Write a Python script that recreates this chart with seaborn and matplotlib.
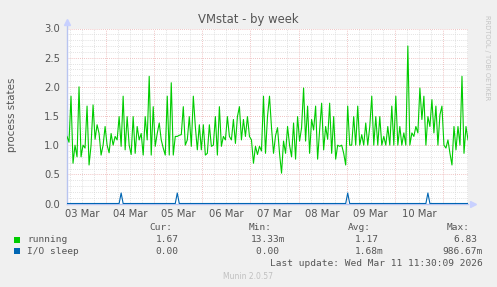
import numpy as np
import pandas as pd
import matplotlib
matplotlib.use("Agg")
import matplotlib.pyplot as plt
import matplotlib.dates as mdates
import seaborn as sns

# ---------------- data ----------------
start_time = "2026-03-03 04:30"
running = [
    1.15, 1.05, 1.84, 0.69, 1.00, 0.80, 2.00, 0.80, 1.00, 0.95,
    1.67, 0.66, 1.00, 1.69, 1.10, 1.35, 1.20, 0.83, 1.00, 1.32,
    1.00, 0.87, 1.20, 1.00, 1.15, 1.09, 1.49, 0.98, 1.84, 0.92,
    1.49, 1.00, 0.84, 1.49, 0.86, 1.32, 1.09, 1.20, 0.83, 1.49,
    1.09, 2.18, 0.83, 1.66, 0.98, 1.20, 1.38, 1.09, 0.95, 0.83,
    1.84, 0.83, 2.07, 0.83, 1.15, 1.15, 1.17, 1.18, 1.66, 1.00,
    1.09, 1.49, 0.98, 1.84, 1.32, 0.92, 1.35, 0.92, 1.35, 0.83,
    0.86, 1.35, 0.98, 1.00, 1.49, 0.83, 1.66, 0.98, 1.15, 1.09,
    1.49, 1.15, 1.09, 1.44, 1.03, 1.49, 1.66, 1.09, 1.44, 1.15,
    1.49, 1.15, 1.09, 0.69, 0.98, 0.84, 0.98, 0.90, 1.84, 0.86,
    1.49, 1.84, 1.30, 0.86, 1.16, 1.30, 0.86, 0.52, 1.07, 0.86,
    1.32, 1.00, 0.80, 1.38, 0.76, 1.49, 1.07, 1.30, 1.98, 1.07,
    1.67, 0.86, 1.44, 1.26, 1.67, 0.76, 1.26, 1.72, 0.92, 1.32,
    1.10, 1.72, 0.86, 1.49, 0.76, 1.00, 0.98, 1.00, 0.86, 0.66,
    1.67, 1.00, 1.00, 1.49, 1.00, 1.67, 1.00, 1.18, 1.00, 1.38,
    1.00, 1.32, 1.84, 1.00, 1.49, 1.00, 1.49, 1.00, 1.15, 1.00,
    1.32, 1.00, 1.67, 1.00, 1.84, 1.00, 1.32, 1.00, 1.21, 1.00,
    2.70, 1.00, 1.21, 1.15, 1.32, 1.21, 1.98, 1.44, 1.84, 1.00,
    1.49, 1.32, 1.78, 1.21, 1.67, 1.00, 1.52, 1.67, 1.00, 0.95,
    1.09, 0.86, 0.66, 1.32, 0.92, 1.32, 1.00, 2.18, 0.86, 1.32,
    1.09,
]
io_spike_index = [27, 55, 140, 180]
io_spike_value = [0.18, 0.18, 0.18, 0.18]

tick_days = ["2026-03-03", "2026-03-04", "2026-03-05", "2026-03-06",
             "2026-03-07", "2026-03-08", "2026-03-09", "2026-03-10"]

legend_names = ["running", "I/O sleep"]
legend_cur = ["1.67", "0.00"]
legend_min = ["13.33m", "0.00"]
legend_avg = ["1.17", "1.68m"]
legend_max = ["6.83", "986.67m"]
colors = ["#00CC00", "#0066B3"]

title = "VMstat - by week"
ylabel = "process states"
last_update = "Last update: Wed Mar 11 11:30:09 2026"
footer = "Munin 2.0.57"
side_text = "RRDTOOL / TOBI OETIKER"

# ---------------- build frame ----------------
times = pd.date_range(start_time, periods=len(running), freq="h")
io_sleep = np.zeros(len(running))
for i, v in zip(io_spike_index, io_spike_value):
    io_sleep[i] = v
df = pd.DataFrame({"time": times, "running": running, "io": io_sleep})

# ---------------- figure ----------------
W, H = 497, 287
fig = plt.figure(figsize=(W / 100, H / 100), dpi=100, facecolor="#F0F0F0")
ax = fig.add_axes([67 / W, 1 - 203.5 / H, 401 / W, 175 / H])
ax.set_facecolor("white")

xmin, xmax = times[0], times[-1]
ax.set_xlim(xmin, xmax)
ax.set_ylim(0, 3.0)

# grid
minor_col = "#D4D4D4"
major_col = "#EBB0B0"
dot = (0, (1, 1.5))
for y in np.arange(0.1, 3.01, 0.1):
    if abs(y * 2 - round(y * 2)) < 1e-6:
        ax.axhline(y, color=major_col, lw=0.6, ls=dot, zorder=1)
    else:
        ax.axhline(y, color=minor_col, lw=0.55, ls=dot, zorder=0.5)
for t in pd.date_range("2026-03-03 06:00", xmax, freq="6h"):
    if t.hour == 0:
        ax.axvline(t, color=major_col, lw=0.6, ls=dot, zorder=1)
    else:
        ax.axvline(t, color=minor_col, lw=0.55, ls=dot, zorder=0.5)

sns.lineplot(data=df, x="time", y="running", ax=ax, color=colors[0], lw=0.8, zorder=3)
sns.lineplot(data=df, x="time", y="io", ax=ax, color=colors[1], lw=0.8, zorder=4)

for s in ax.spines.values():
    s.set_visible(False)
axis_col = "#B8C4F0"
ax.plot([0, 0], [0, 1.02], transform=ax.transAxes, color=axis_col, lw=1, clip_on=False, zorder=2)
ax.plot([0, 1.0], [0, 0], transform=ax.transAxes, color=axis_col, lw=1, clip_on=False, zorder=2)
ax.plot([0], [1.035], transform=ax.transAxes, marker="^", ms=4.5, color="#C8D0FF", clip_on=False)
ax.plot([1.012], [0], transform=ax.transAxes, marker=">", ms=4.5, color="#C8D0FF", clip_on=False)

tick_pos = [pd.Timestamp(d) + pd.Timedelta(hours=12) for d in tick_days]
ax.set_xticks(tick_pos)
ax.xaxis.set_major_formatter(mdates.DateFormatter("%d %b"))
ax.set_yticks(np.arange(0, 3.01, 0.5))
ax.yaxis.set_major_formatter(matplotlib.ticker.FormatStrFormatter("%.1f"))
ax.tick_params(axis="both", length=0, labelsize=7.2, colors="#555555")
ax.tick_params(axis="x", pad=4)
ax.tick_params(axis="y", pad=5)
ax.set_xlabel("")
ax.set_ylabel("")
ax.grid(False)

# texts
fig.text(248 / W, 1 - 19 / H, title, ha="center", va="center", fontsize=8.4, color="#555555")
fig.text(12 / W, 1 - 115 / H, ylabel, rotation=90, ha="center", va="center", fontsize=7.4, color="#555555")
fig.text(487 / W, 1 - 58 / H, side_text, rotation=270, ha="center", va="center", fontsize=4.8, color="#C4C4C4")

mono = dict(family="DejaVu Sans Mono", fontsize=6.8, color="#555555", va="center")
hy = 1 - 227.7 / H
fig.text(172 / W, hy, "Cur:", ha="right", **mono)
fig.text(272 / W, hy, "Min:", ha="right", **mono)
fig.text(371 / W, hy, "Avg:", ha="right", **mono)
fig.text(470 / W, hy, "Max:", ha="right", **mono)
row_y = [240, 251.3]
for k in range(2):
    ry = 1 - row_y[k] / H
    fig.patches.append(matplotlib.patches.Rectangle((14 / W, ry - 3 / H), 6 / W, 6 / H,
                       transform=fig.transFigure, facecolor=colors[k], edgecolor="none"))
    fig.text(27 / W, ry, legend_names[k], ha="left", **mono)
    fig.text(155.7 / W, ry, legend_cur[k], ha="left", **mono)
    fig.text(285 / W, ry, legend_min[k] if legend_min[k].endswith("m") else legend_min[k] + " ",
             ha="right", **mono)
    fig.text(384 / W, ry, legend_avg[k] if legend_avg[k].endswith("m") else legend_avg[k] + " ",
             ha="right", **mono)
    fig.text(483 / W, ry, legend_max[k] if legend_max[k].endswith("m") else legend_max[k] + " ",
             ha="right", **mono)
fig.text(483 / W, 1 - 263.3 / H, last_update, ha="right", **mono)
fig.text(248 / W, 1 - 276.5 / H, footer, ha="center", va="center", fontsize=5.5, color="#C0C0C0")

fig.savefig("out.png", dpi=100, facecolor=fig.get_facecolor())
